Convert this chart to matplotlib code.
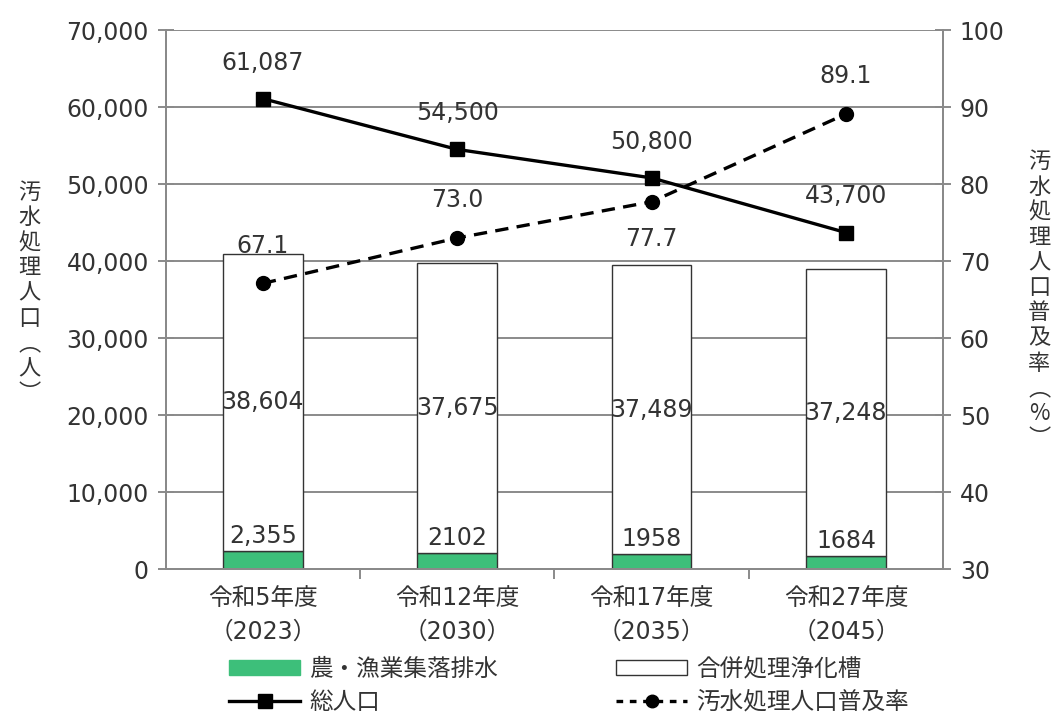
import matplotlib
matplotlib.use("Agg")
import matplotlib.pyplot as plt
from matplotlib.patches import Patch
from matplotlib.lines import Line2D

plt.rcParams['font.family'] = ['DejaVu Sans', 'Noto Sans CJK JP']

categories = ["令和5年度\n（2023）", "令和12年度\n（2030）", "令和17年度\n（2035）", "令和27年度\n（2045）"]
rural = [2355, 2102, 1958, 1684]
septic = [38604, 37675, 37489, 37248]
rural_labels = ["2,355", "2102", "1958", "1684"]
septic_labels = ["38,604", "37,675", "37,489", "37,248"]
total_pop = [61087, 54500, 50800, 43700]
rate = [67.1, 73.0, 77.7, 89.1]
left_ticks = [0, 10000, 20000, 30000, 40000, 50000, 60000, 70000]
right_ticks = [30, 40, 50, 60, 70, 80, 90, 100]

green = '#3dbf7a'
grid_c = '#8a8a8a'
txt = '#333333'

fig = plt.figure(figsize=(10.55, 7.15), dpi=100)
ax = fig.add_axes([0.157, 0.204, 0.737, 0.754])
ax2 = ax.twinx()

x = list(range(len(categories)))
w = 0.41
ax.set_axisbelow(True)
ax.grid(axis='y', color=grid_c, linewidth=1.4, zorder=0)
ax.bar(x, rural, width=w, color=green, edgecolor='#333333', linewidth=1.0, zorder=2)
ax.bar(x, septic, width=w, bottom=rural, color='white', edgecolor='#333333', linewidth=1.0, zorder=2)

for i in x:
    ax.text(i, rural[i] + 350, rural_labels[i], ha='center', va='bottom', fontsize=17, color=txt, zorder=5)
    ax.text(i, rural[i] + septic[i] / 2, septic_labels[i], ha='center', va='center', fontsize=17, color=txt, zorder=5)

ax.set_ylim(0, 70000)
ax.set_xlim(-0.5, 3.5)
ax.set_yticks(left_ticks)
ax.set_yticklabels([f"{v:,}" for v in left_ticks])
ax.set_xticks(x)
ax.set_xticklabels(categories, linespacing=1.5)
ax.set_xticks([0.5, 1.5, 2.5], minor=True)
ax.tick_params(axis='x', which='major', length=0, pad=12, labelsize=17, labelcolor=txt)
ax.tick_params(axis='x', which='minor', length=7, color=grid_c, width=1.4, direction='out')
ax.tick_params(axis='y', length=12, direction='inout', color=grid_c, width=1.4, labelsize=17, labelcolor=txt, pad=6)

ax2.set_ylim(30, 100)
ax2.set_yticks(right_ticks)
ax2.tick_params(axis='y', length=12, direction='inout', color=grid_c, width=1.4, labelsize=17, labelcolor=txt, pad=6)

for a in (ax, ax2):
    a.spines['top'].set_visible(False)
    for s in ('left', 'right', 'bottom'):
        a.spines[s].set_color(grid_c)
        a.spines[s].set_linewidth(1.4)

line_ax = fig.add_axes(ax.get_position(), sharex=ax)
line_ax.set_ylim(0, 70000)
line_ax.axis('off')
line_ax.patch.set_visible(False)
line_ax.plot(x, total_pop, color='black', linewidth=2.4, marker='s', markersize=10, zorder=6)
for i in x:
    line_ax.annotate(f"{total_pop[i]:,}", (i, total_pop[i]), xytext=(0, 26), textcoords='offset points',
                     ha='center', va='center', fontsize=17, color=txt)

rate_ax = fig.add_axes(ax.get_position(), sharex=ax)
rate_ax.set_ylim(30, 100)
rate_ax.axis('off')
rate_ax.patch.set_visible(False)
rate_ax.plot(x, rate, color='black', linewidth=2.4, linestyle=(0, (4, 2.5)), marker='o', markersize=10, zorder=6)
offsets = [27, 27, -27, 27]
for i in x:
    rate_ax.annotate(f"{rate[i]:.1f}", (i, rate[i]), xytext=(0, offsets[i]), textcoords='offset points',
                     ha='center', va='center', fontsize=17, color=txt)

fig.text(0.028, 0.59, "汚\n水\n処\n理\n人\n口\n︵\n人\n︶", ha='center', va='center', fontsize=16,
         color=txt, linespacing=1.12, family=['Noto Sans CJK JP'])
fig.text(0.985, 0.58, "汚\n水\n処\n理\n人\n口\n普\n及\n率\n︵\n%\n︶", ha='center', va='center', fontsize=16,
         color=txt, linespacing=1.12, family=['Noto Sans CJK JP'])

handles = [Patch(facecolor=green, edgecolor=green),
           Line2D([0], [0], color='black', linewidth=2.4, marker='s', markersize=10),
           Patch(facecolor='white', edgecolor='#333333'),
           Line2D([0], [0], color='black', linewidth=2.4, linestyle=(0, (2, 2)), marker='o', markersize=9)]
labels = ["農・漁業集落排水", "総人口", "合併処理浄化槽", "汚水処理人口普及率"]
fig.legend(handles, labels, loc='lower left', bbox_to_anchor=(0.197, -0.028), ncol=2, frameon=False,
           columnspacing=5.0, handlelength=3.0, handleheight=0.6, labelspacing=0.42,
           handletextpad=0.4, labelcolor=txt, prop={'family': ['Noto Sans CJK JP'], 'size': 17})

fig.savefig("out.png", dpi=100)
